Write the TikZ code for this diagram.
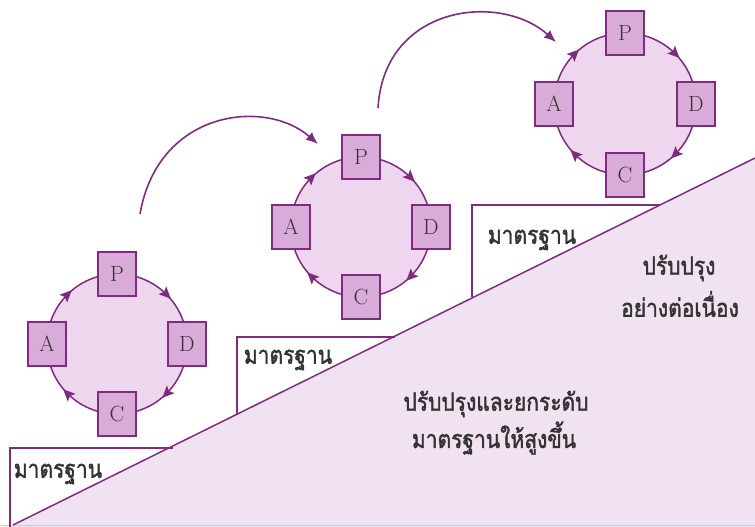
\documentclass[tikz,border=0pt]{standalone}
\usepackage{fontspec}
\newfontfamily\thaifont[Script=Thai,FakeStretch=0.84,FakeBold=1.6]{Loma}
\usetikzlibrary{arrows.meta,decorations.markings}
\pgfdeclarelayer{bg}\pgfdeclarelayer{mid}
\pgfsetlayers{bg,mid,main}
\definecolor{pdark}{HTML}{7E2C7E}
\definecolor{pbox}{HTML}{D8ABD8}
\definecolor{pcirc}{HTML}{EDD6EE}
\definecolor{pfloor}{HTML}{F0E2F1}
\definecolor{pline}{HTML}{EBB8EB}
\definecolor{tgray}{HTML}{333333}
\begin{document}
\begin{tikzpicture}[x=1pt,y=-1pt,
  letter/.style={draw=pdark, fill=pbox, line width=1.5pt, minimum width=38pt, minimum height=44pt, inner sep=0pt, font=\fontsize{22}{22}\selectfont, text=tgray},
  disc/.style={circle, fill=pcirc, minimum size=140pt, inner sep=0pt},
  cyc/.style={draw=pdark, line width=1.5pt, bend left=45, postaction={decorate},
    decoration={markings, mark=at position 0.5 with {\fill[pdark] (6pt,0pt) -- (-6pt,5.5pt) -- (-3.5pt,0pt) -- (-6pt,-5.5pt) -- cycle;}}},
  bigarrow/.style={draw=pdark, line width=1.6pt, -{Latex[length=12pt,width=10pt]}},
  stdline/.style={draw=pdark, line width=1.5pt},
  thai/.style={font=\thaifont\fontsize{25}{28}\selectfont, text=tgray, align=center, inner sep=0pt}
]
\useasboundingbox (0,0) rectangle (755,527);
% floor
\fill[pfloor] (13,525) -- (755,158) -- (755,527) -- (0,527) -- cycle;
\draw[pline, line width=1.2pt] (0,525.5) -- (755,525.5);
% standard steps
\draw[stdline] (10,527) -- (10,448) -- (173,448);
\draw[stdline] (237,414) -- (237,337) -- (395,337);
\draw[stdline] (472,297) -- (472,205) -- (660,205);
\draw[stdline] (13,525) -- (755,158);

% cycle 1
\node[letter] (p1) at (117,274) {P};
\node[letter] (d1) at (187,344) {D};
\node[letter] (c1) at (117,414) {C};
\node[letter] (a1) at (47,344) {A};
% cycle 2
\node[letter] (p2) at (361,157) {P};
\node[letter] (d2) at (431,227) {D};
\node[letter] (c2) at (361,297) {C};
\node[letter] (a2) at (291,227) {A};
% cycle 3
\node[letter] (p3) at (625,33) {P};
\node[letter] (d3) at (696,104) {D};
\node[letter] (c3) at (625,175) {C};
\node[letter] (a3) at (554,104) {A};

\begin{pgfonlayer}{bg}
  \node[disc] (k1) at (117,344) {};
  \node[disc] (k2) at (361,227) {};
  \node[disc, minimum size=142pt] (k3) at (625,104) {};
\end{pgfonlayer}
\begin{pgfonlayer}{mid}
  \foreach \i in {1,2,3}{
    \draw[cyc] (p\i.center) to (d\i.center);
    \draw[cyc] (d\i.center) to (c\i.center);
    \draw[cyc] (c\i.center) to (a\i.center);
    \draw[cyc] (a\i.center) to (p\i.center);
  }
\end{pgfonlayer}

% big arrows
\coordinate (s1) at (140,214);
\coordinate (e1) at (318,144);
\draw[bigarrow] (s1) .. controls (158,110) and (265,98) .. (e1);
\coordinate (s2) at (378,108);
\coordinate (e2) at (556,42);
\draw[bigarrow] (s2) .. controls (384,5) and (500,-8) .. (e2);

% texts
\node[thai] (t1) at (58,474) {มาตรฐาน};
\node[thai] (t2) at (288,360) {มาตรฐาน};
\node[thai] (t3) at (532,240) {มาตรฐาน};
\node[thai] (t4) at (679,268) {ปรับปรุง};
\node[thai] (t5) at (680,304) {อย่างต่อเนื่อง};
\node[thai] (t6) at (496,404) {ปรับปรุงและยกระดับ};
\node[thai] (t7) at (494,438) {มาตรฐานให้สูงขึ้น};
\end{tikzpicture}
\end{document}
